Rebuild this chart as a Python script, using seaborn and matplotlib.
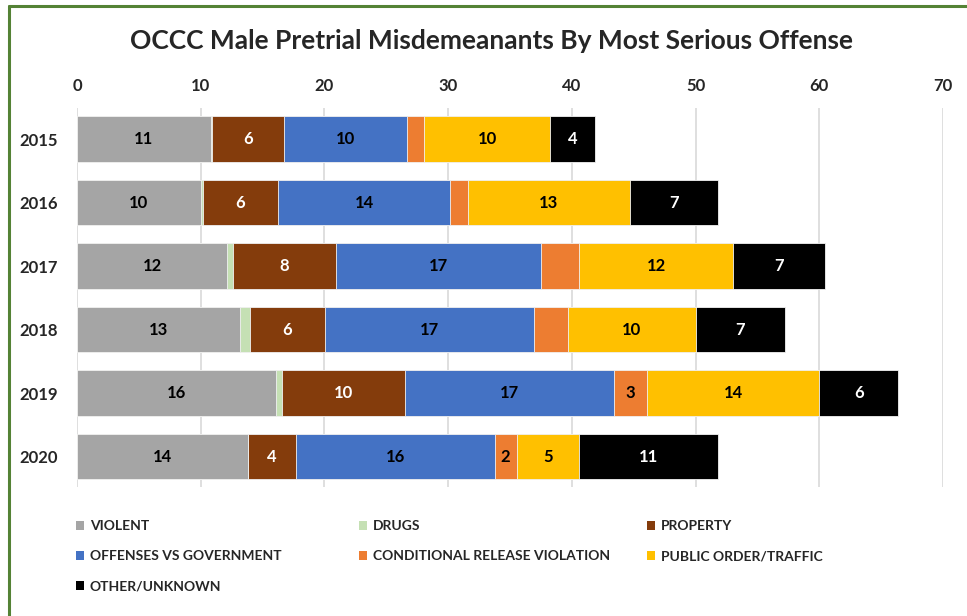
import matplotlib
matplotlib.use("Agg")
import matplotlib.pyplot as plt
import seaborn as sns
import numpy as np
import pandas as pd
from matplotlib.patches import Patch
from matplotlib.lines import Line2D

# ---- data ----
years = ["2015", "2016", "2017", "2018", "2019", "2020"]
violent = [10.8, 10.0, 12.15, 13.2, 16.1, 13.8]
drugs = [0.1, 0.15, 0.5, 0.75, 0.5, 0.05]
prop = [5.85, 6.1, 8.25, 6.1, 9.9, 3.85]
offenses = [9.9, 13.9, 16.6, 16.9, 16.9, 16.05]
conditional = [1.4, 1.45, 3.1, 2.75, 2.7, 1.8]
public = [10.2, 13.1, 12.45, 10.3, 13.9, 5.0]
other = [3.6, 7.1, 7.4, 7.2, 6.4, 11.3]

series_names = ["VIOLENT", "DRUGS", "PROPERTY", "OFFENSES VS GOVERNMENT",
                "CONDITIONAL RELEASE VIOLATION", "PUBLIC ORDER/TRAFFIC", "OTHER/UNKNOWN"]
series_vals = [violent, drugs, prop, offenses, conditional, public, other]
colors = ["#A5A5A5", "#C5E0B4", "#843C0C", "#4472C4", "#ED7D31", "#FFC000", "#000000"]
text_colors = ["black", "black", "white", "black", "black", "black", "white"]
# which segments carry a data label (per series, per year)
show_label = [
    [True] * 6,
    [False] * 6,
    [True] * 6,
    [True] * 6,
    [False, False, False, False, True, True],
    [True] * 6,
    [True] * 6,
]

FONT = ["Lato", "DejaVu Sans"]
sns.set_theme(style="white")
plt.rcParams["font.family"] = FONT

W, H = 967, 616
fig = plt.figure(figsize=(W / 100, H / 100), dpi=100)
ax = fig.add_axes([77 / W, 1 - 487 / H, (943 - 77) / W, (487 - 108) / H])

vals = np.array(series_vals)
cum = np.cumsum(vals, axis=0)

# draw cumulative totals from largest to smallest so segments stack
for i in range(len(series_names) - 1, -1, -1):
    df = pd.DataFrame({"year": years, "value": cum[i]})
    sns.barplot(data=df, x="value", y="year", orient="h", color=colors[i],
                width=0.72, ax=ax, saturation=1, edgecolor="#f2f2f2", linewidth=0.6,
                zorder=3)

# data labels
for i in range(len(series_names)):
    for j in range(len(years)):
        if show_label[i][j]:
            start = cum[i][j] - vals[i][j]
            ax.text(start + vals[i][j] / 2, j, f"{round(vals[i][j]):.0f}",
                    ha="center", va="center", fontsize=12, fontweight="bold",
                    color=text_colors[i], zorder=5)

ax.set_xlim(0, 70)
ax.set_ylim(5.48, -0.49)
ax.set_xticks(range(0, 71, 10))
ax.xaxis.tick_top()
ax.tick_params(axis="x", length=0, pad=10, labelsize=12)
ax.tick_params(axis="y", length=0, pad=14, labelsize=12)
for lab in ax.get_xticklabels() + ax.get_yticklabels():
    lab.set_fontweight("bold")
ax.set_xlabel("")
ax.set_ylabel("")
ax.grid(axis="x", color="#d9d9d9", linewidth=1.2, zorder=0)
ax.grid(axis="y", visible=False)
for s in ax.spines.values():
    s.set_visible(False)

fig.text(492 / W, 1 - 41 / H, "OCCC Male Pretrial Misdemeanants By Most Serious Offense",
         ha="center", va="center", fontsize=19, fontweight="bold")

# legends: three columns
cols = [[0, 3, 6], [1, 4], [2, 5]]
xs = [76, 359, 647]
for c, x in zip(cols, xs):
    handles = [Patch(facecolor=colors[k], edgecolor="none", label=series_names[k]) for k in c]
    leg = fig.legend(handles=handles, loc="upper left",
                     bbox_to_anchor=(x / W, 1 - 520 / H), frameon=False,
                     prop={"family": FONT, "weight": "bold", "size": 10},
                     handlelength=0.6, handleheight=0.6, handletextpad=0.4,
                     labelspacing=1.3, borderpad=0, borderaxespad=0)

# green chart border
green = "#548235"
fig.add_artist(Line2D([9 / W, 1], [1 - 6 / H, 1 - 6 / H], color=green, linewidth=2.2,
                      transform=fig.transFigure))
fig.add_artist(Line2D([9 / W, 9 / W], [1 - 6 / H, 0], color=green, linewidth=2.2,
                      transform=fig.transFigure))

fig.savefig("out.png", dpi=100)
